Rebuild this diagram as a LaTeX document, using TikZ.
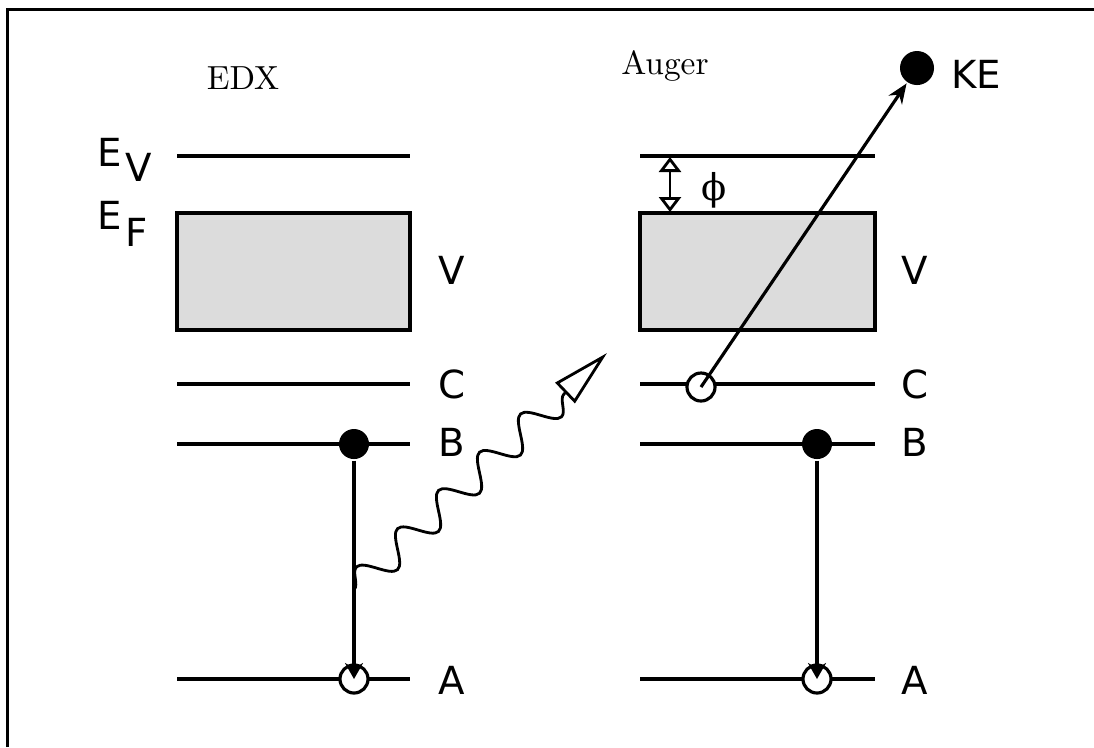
\documentclass[tikz,border=0pt]{standalone}
\usepackage{fontspec}
\newfontfamily\lblfont{DejaVu Sans}
\newfontfamily\grkfont{DejaVu Serif}
\usetikzlibrary{arrows.meta,calc,decorations.pathmorphing}
\definecolor{bandgray}{RGB}{220,220,220}
\newcommand{\levels}[2]{\begin{scope}[shift={(#1,0)}]
  \draw (0,156)--(#2,156);
  \draw[fill=bandgray] (0,213) rectangle (#2,330);
  \draw (0,384)--(#2,384);\draw (0,444)--(#2,444);\draw (0,679)--(#2,679);\end{scope}}

\begin{document}
\begin{tikzpicture}[x=0.01cm,y=-0.01cm,>=Stealth,line width=0.9pt,
  dot/.style={circle,fill=black,inner sep=0pt,minimum size=0.3cm},
  hole/.style={circle,draw,fill=white,inner sep=0pt,minimum size=0.28cm},
  lbl/.style={font=\lblfont\fontsize{11}{13}\selectfont},
  ttl/.style={font=\fontsize{9.5}{11}\selectfont}]
\useasboundingbox (0,0) rectangle (1094,747);
\draw[line width=0.9pt] (7.5,747)--(7.5,9.5)--(1094,9.5);
\levels{177}{233}
\levels{640}{235}
\node[ttl] (edx) at (243,78) {EDX};
\node[ttl] (aug) at (665,66) {Auger};
\node[lbl,anchor=west] (ev) at (84,160) {E\kern0.35mm\raisebox{-1.5mm}{V}};
\node[lbl,anchor=west] (ef) at (84,224) {E\kern0.35mm\raisebox{-1.7mm}{F}};
\node[lbl] (vL) at (452,270) {V};
\node[lbl] (cL) at (452,384) {C};
\node[lbl] (bLl) at (452,442) {B};
\node[lbl] (aLl) at (452,680) {A};
\node[lbl] (vR) at (915,270) {V};
\node[lbl] (cRl) at (915,384) {C};
\node[lbl] (bRl) at (915,442) {B};
\node[lbl] (aRl) at (915,680) {A};
\node[lbl] (kel) at (976,74) {KE};
\node[font=\grkfont\fontsize{10.5}{12}\selectfont] (phi) at (714,190) {ϕ};
% electrons and holes
\node[dot] (bL) at (354,444) {};
\node[hole] (aL) at (354,679) {};
\node[dot] (bR) at (817,444) {};
\node[hole] (aR) at (817,679) {};
\node[hole] (cR) at (701,387) {};
\node[dot,minimum size=0.34cm] (ke) at (917,68) {};
\draw[-{Stealth[length=1.6mm,width=1.8mm]}] (bL) -- (aL.center);
\draw[-{Stealth[length=1.6mm,width=1.8mm]}] (bR) -- (aR.center);
\draw[-{Stealth[length=2mm,width=1.6mm]}] (cR.center) -- (ke);
\coordinate (ev1) at (670,157);
\coordinate (ef1) at (670,212);
\draw[line width=0.8pt,{Triangle[open,length=1.5mm,width=2.2mm]}-{Triangle[open,length=1.5mm,width=2.2mm]}] (ev1) -- (ef1);
% x-ray photon
\coordinate (hit) at ($(bL)!0.62!(aL)$);
\coordinate (base) at (565,393);
\coordinate (tip) at (607,353);
\draw[line width=0.8pt,decorate,decoration={snake,amplitude=1.5mm,segment length=5.6mm}] (hit) -- (base);
\draw[line width=0.8pt,-{Triangle[open,length=5.8mm,width=2.8mm]}] (base) -- (tip);
\end{tikzpicture}
\end{document}
